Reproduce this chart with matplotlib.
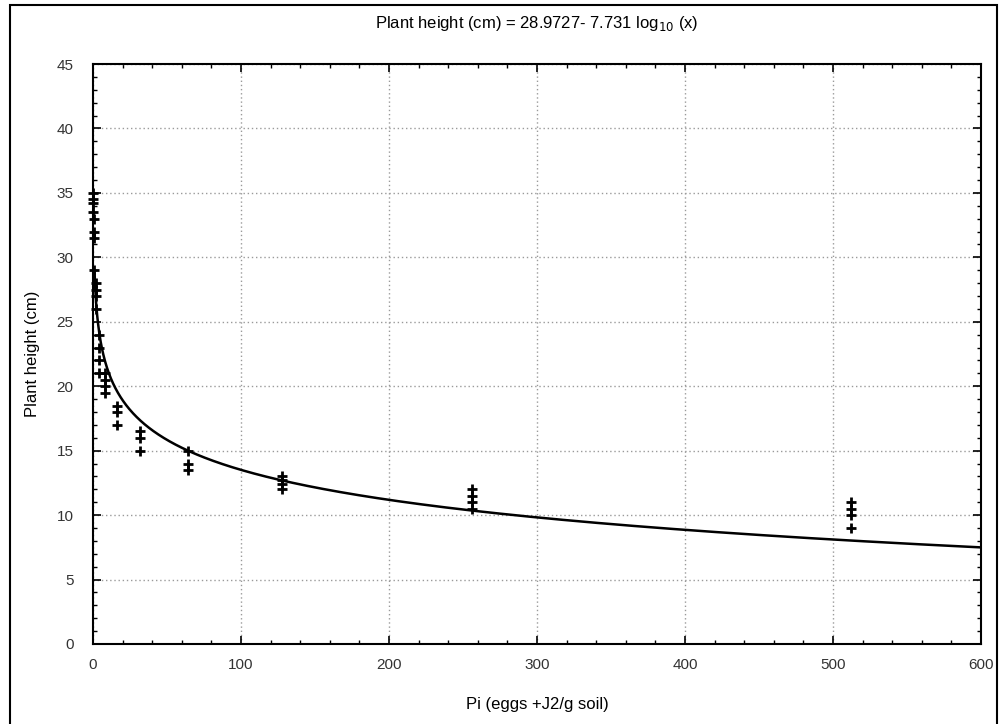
import matplotlib.pyplot as plt
import numpy as np
from matplotlib.ticker import MultipleLocator
from matplotlib.patches import Rectangle

plt.rcParams['font.family'] = ['Liberation Sans', 'DejaVu Sans']

# Datos (Pi vs altura de planta)
pi_valores = [0, 0, 0, 0,
              1, 1, 1, 1,
              2, 2, 2, 2,
              4, 4, 4, 4,
              8, 8, 8, 8,
              16, 16, 16,
              32, 32, 32,
              64, 64, 64,
              128, 128, 128, 128,
              256, 256, 256, 256,
              512, 512, 512, 512]
altura_valores = [35.0, 34.5, 34.2, 33.5,
                  33.0, 32.0, 31.5, 29.0,
                  28.0, 27.5, 27.0, 26.0,
                  24.0, 23.0, 22.0, 21.0,
                  21.0, 20.5, 20.0, 19.5,
                  18.5, 18.0, 17.0,
                  16.5, 16.0, 15.0,
                  15.0, 14.0, 13.5,
                  13.0, 12.7, 12.4, 12.0,
                  12.0, 11.5, 11.0, 10.5,
                  11.0, 10.5, 10.0, 9.0]

# Coeficientes del ajuste (del titulo)
a = 28.9727
b = 7.731

fig = plt.figure(figsize=(9.99, 7.24), dpi=100)
ax = fig.add_axes([0.0931, 0.1105, 0.8889, 0.8011])

x_curva = np.linspace(1, 600, 2000)
ax.plot(x_curva, a - b * np.log10(x_curva), color='black', linewidth=1.8, zorder=3)
ax.plot(pi_valores, altura_valores, linestyle='none', marker='+', markersize=6.5,
        markeredgewidth=2, color='black', zorder=4, clip_on=False)

ax.set_xlim(0, 600)
ax.set_ylim(0, 45)
ax.xaxis.set_major_locator(MultipleLocator(100))
ax.xaxis.set_minor_locator(MultipleLocator(20))
ax.yaxis.set_major_locator(MultipleLocator(5))
ax.yaxis.set_minor_locator(MultipleLocator(1))
ax.tick_params(which='both', direction='in', top=True, right=True,
               labelsize=11, labelcolor='#333333')
ax.tick_params(axis='y', pad=14)
ax.tick_params(axis='x', pad=10)
ax.tick_params(which='major', length=6, width=1.2)
ax.tick_params(which='minor', length=3, width=1)
for s in ax.spines.values():
    s.set_linewidth(1.5)

ax.grid(True, which='major', color='#9a9a9a', linestyle=(0, (1, 2)), linewidth=1)

fig.text(0.5375, 0.968, r"Plant height (cm) = 28.9727- 7.731 log$_{10}$ (x)",
         fontsize=12, ha='center', va='center')
ax.set_xlabel("Pi (eggs +J2/g soil)", fontsize=12, labelpad=18)
ax.set_ylabel("Plant height (cm)", fontsize=12, labelpad=12)

# marco exterior de la figura
fig.patches.append(Rectangle((0.010, -0.01), 0.988, 1.003, transform=fig.transFigure,
                             fill=False, edgecolor='black', linewidth=1.5))

fig.savefig("out.png", dpi=100)
